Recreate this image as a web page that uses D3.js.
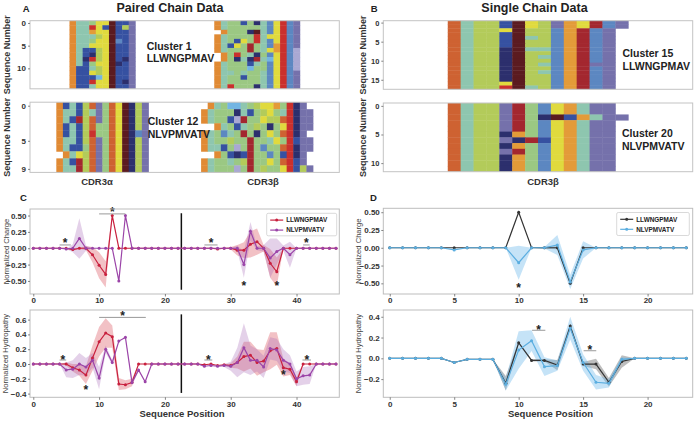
<!DOCTYPE html>
<html><head><meta charset="utf-8">
<script src="https://cdn.jsdelivr.net/npm/d3@7"></script>
<style>
body{margin:0;background:#fff}
svg{display:block}
text{font-family:"Liberation Sans",Arial,Helvetica,sans-serif}
</style>
</head><body>
<svg id="chart" width="695" height="421"></svg>
<script>
// ---------------- DATA ----------------
const aminoColors = {O:"#E08A34",R:"#CE6232",T:"#8EC6AF",G:"#9BC883",Y:"#B3CB5A",L:"#E0DA3E",D:"#5B1B20",K:"#A3272F",C:"#CA302D",A:"#E39B39",N:"#2C2F6D",B:"#3651A1",M:"#5C87C1",S:"#73B5E3",P:"#7571AB",Q:"#A9A8D3"};

const cluster1Alpha = {start:6, rows:[
"OTTGLLDBBP","OTTCLBDBYP","OTTALLDBBP","OTTTYLDBBP","OTTGLLDMBP",
"OTTLLLDBBP","OTBBYLDBBP","OTBNYLDBBP","OTNCYLDBNP","OTBGLLDNBP",
"OBBTYLDBBP","OBBLYLDBBP","OBBBSLDBBP","OBBCLLDBNP","OBBTLLDBBP"]};
const cluster1Beta = {start:28, rows:[
"OTGGBGNTMLCMP","OTGGGGGTMLCMP",".OGGGNDTMLCMP","OTGGGGCTLLCMP","OTGBLGCTMLCMP",
"OTBLGKGTMACMP","OTGGGKGTLACMQ",".OGCGTNGMLCMQ",".OGNTNKTSLCMQ","OTGGGBTGMLCMQ",
"OTGGGSGGMLCMQ","OTTGTGGTMLCMP","OTGGBGGTMLCMP","OTGGGGGTMLCMP","OTCGGGNTMLCMP"]};
const cluster12Alpha = {start:4, rows:[
"OBTBYRPGRLDNYP","OTTBYTPGRLDNYP","OTBKYRPGRLDNYP","OBTBYRGGRLDNYP","OBTBYCGGRLDNMP",
"OTTBYRPGRLDNYP","OTBBGRPGRLDNYP",".OTLYRPGRLDNYP","OTBKYRPGRLDNYP","OTTKYRPGRLDNYP"]};
const cluster12Beta = {start:26, rows:[
".OTGSSTGYLLAGCNP.","OTGGGNTBGYLGTCNPP","OTGGBQKGGLYYRCNPP","..OTGBTGYGNGLCNPP","OTGMTGKGNGLGRCNP.",
"OTGGYGGKGGTLGCBPP","OTTBGQGKGMGGRCNPP","..OGBNBKGGMGBCNP.","OTGGTGYKGGLGRCBP.","OTGGGQGKGYGGLCBYP"]};
const cluster15 = {start:5, rows:[
"RTYYBDLYPALKMP","RTYYBDLYPALKMP","RTYYLDYYMAKMP.","RTYYBDYYMAKMP.","RTYYBDTYMAKMP.",
"RTYYBDYYMAKMP.","RTYYBDYYMAKMP.","RTYYNDTTMAKMP.","RTYYNDYYMAKMP.","RTYYNDYTMAKMP.",
"RTYYNDYYMAKMP.","RTYYNDYTMAKPP.","RTYYNDYYMAKMP.","RTYYNDYTMAKMP.","RTYYNDYYMAKMP.",
"RTYYNDYYMAKMP.","RTYYLDYYMAKMP.","RTYYCDTYMAKMP."]};
const cluster20 = {start:5, rows:[
"RTYYPKGMLATPP.","RTYYPKGMLATPP.","RTYYPKGNDBATPP","RTYYPKGMLATPP.","RTYYPKGMLATPP.",
"RTYYNAGMLATPP.","RTYYPNKBLATPP.","RTYYNAGMLATPP.","RTYYPKGMLATPP.","RTYYNAGMLATPP.",
"RTYYNAGMLATPP.","RTYYNAGMLATPP."]};

const seriesNames = ["LLWNGPMAV","NLVPMVATV"];

// Paired chain (positions 0..46)
const chargeA_LLW = [0,0,0,0,0, 0,-0.02,0,0,-0.1, -0.26,-0.4,0.5,0,0, 0,0,0,0,0, 0,0,0,0,0, 0,0,0,-0.01,0, 0,-0.03,-0.03,0.06,0.1, 0,-0.23,-0.36,0,0, 0,0,0,0,0, 0,0];
const chargeA_LLW_sd = [0,0,0,0,0, 0,0.02,0.01,0.03,0.12, 0.2,0.2,0,0,0, 0,0,0,0,0, 0,0,0,0,0, 0,0,0,0,0, 0.02,0.08,0.12,0.2,0.2, 0.05,0.22,0.22,0,0, 0,0,0,0,0, 0,0];
const chargeA_NLV = [0,0,0,0,0, -0.01,0,0.15,0,0, 0,0,0,-0.5,0.5, 0,0,0,0,0, 0,0,0,0,0, 0,0,0,0,0, 0,0,-0.25,0.26,0, 0,-0.15,-0.05,0,-0.1, 0,0,0,0,0, 0,0];
const chargeA_NLV_sd = [0,0,0,0,0, 0,0.06,0.31,0.04,0, 0,0,0,0,0, 0,0,0,0,0, 0,0,0,0,0, 0,0,0,0,0, 0,0.04,0.2,0.14,0.03, 0.05,0.3,0.2,0.04,0.2, 0,0,0,0,0, 0,0];
const hydroA_LLW = [0,0,0,0,0, 0,-0.05,-0.08,-0.15,0.08, 0.3,0.42,0.37,-0.27,-0.28, -0.25,0,0,0,0, 0,0,0,0,0, 0,-0.01,0,-0.02,-0.01, -0.02,0.02,0.1,0.12,0.02, 0.04,0.18,0.21,-0.05,-0.07, -0.24,0,0,0,0, 0,0];
const hydroA_LLW_sd = [0,0,0,0,0, 0.02,0.05,0.08,0.12,0.17, 0.2,0.2,0.15,0.08,0.06, 0.05,0,0,0,0, 0,0,0,0,0, 0,0,0,0,0, 0.03,0.08,0.2,0.18,0.18, 0.15,0.25,0.22,0.12,0.08, 0.06,0,0,0,0, 0,0];
const hydroA_NLV = [0,0,0,0,0, -0.08,-0.07,0,-0.04,0.05, -0.19,0.2,0.02,0.31,0.36, -0.25,-0.08,-0.24,0,0, 0,0,0,0,0, 0,-0.03,-0.02,-0.03,-0.02, -0.03,0.02,0.22,0.05,0.05, -0.04,0.21,0.19,0.05,0, -0.2,-0.16,-0.15,0,0, 0,0];
const hydroA_NLV_sd = [0,0,0,0,0, 0.1,0.12,0.15,0.12,0.1, 0.15,0.05,0.03,0,0, 0.04,0.02,0,0,0, 0,0,0,0,0, 0,0,0,0,0.02, 0.06,0.2,0.33,0.2,0.15, 0.15,0.15,0.15,0.15,0.12, 0.1,0.12,0.12,0,0, 0,0];

// Single chain (positions 0..23)
const chargeB_LLW = [0,0,0,0,0, 0,0,0,0,0, 0.5,0,0,0,-0.5, 0,0,0,0,0, 0,0,0,0];
const chargeB_LLW_sd = [0,0,0,0,0, 0,0,0,0,0, 0,0,0.015,0.02,0.03, 0,0,0,0,0, 0,0,0,0];
const chargeB_NLV = [0,0,0,0,0, -0.03,0,0,0,0, -0.21,0,0,0.04,-0.48, -0.03,0,0,0,0, 0,0,0,0];
const chargeB_NLV_sd = [0,0,0,0,0, 0,0,0,0,0, 0.24,0,0.01,0.14,0.1, 0.12,0,0,0,0, 0,0,0,0];
const hydroB_LLW = [0,0,0,0,0, -0.04,-0.01,-0.01,-0.01,-0.24, 0.15,-0.02,-0.02,-0.065,0.31, -0.055,-0.055,-0.23,-0.03,0, 0,0,0,0];
const hydroB_LLW_sd = [0,0,0,0,0, 0,0,0,0,0.07, 0.01,0.01,0.01,0.05,0.02, 0.02,0.05,0.04,0.06,0, 0,0,0,0];
const hydroB_NLV = [0,0,0,0,0, -0.04,-0.01,-0.01,-0.01,-0.25, 0.08,0.17,-0.08,-0.07,0.29, -0.04,-0.23,-0.24,-0.01,0, 0,0,0,0];
const hydroB_NLV_sd = [0,0,0,0,0, 0,0,0,0,0.06, 0.18,0.1,0.09,0.05,0.11, 0.08,0.07,0.04,0.02,0, 0,0,0,0];

// significance marks: bracket [x1,x2] at value "line", star at value "y"
const starsChargeA = [{x1:4,x2:5.7,line:0.05,y:0.13},{x1:10,x2:14,line:0.525,y:0.59},{x1:26,x2:28,line:0.05,y:0.13},{x1:41,x2:42,line:0.05,y:0.13},{x:32,y:-0.54},{x:37,y:-0.54}];
const starsHydroA = [{x1:4,x2:5,line:0.054,y:0.095},{x:8,y:-0.32},{x1:10,x2:17.1,line:0.63,y:0.69},{x1:26,x2:27.2,line:0.054,y:0.095},{x:38,y:-0.105},{x1:40.9,x2:42.2,line:0.054,y:0.095}];
const starsChargeB = [{x:10,y:-0.53}];
const starsHydroB = [{x1:11.04,x2:12.07,line:0.27,y:0.3},{x1:15.04,x2:16.02,line:0.073,y:0.105}];

const ticksCharge = [-0.5,-0.25,0,0.25,0.5];
const ticksHydroA = [-0.4,-0.2,0,0.2,0.4,0.6];
const ticksHydroB = [-0.2,0,0.2,0.4];
const xTicksA = [0,10,20,30,40];
const xTicksB = [0,5,10,15,20];

// ---------------- DRAWING ----------------
const svg = d3.select("#chart");
const FONT = '"Liberation Sans",Arial,Helvetica,sans-serif';

const xA = d3.scaleLinear().domain([-0.5,46.5]).range([30,339.3]);
const xB = d3.scaleLinear().domain([-0.5,23.5]).range([383.3,692.7]);

function txt(x,y,s,o={}) {
  const t = svg.append("text").attr("x",x).attr("y",y).text(s)
    .attr("font-size",o.size||9).attr("font-weight",o.weight||"bold")
    .attr("fill",o.fill||"#222").attr("text-anchor",o.anchor||"start");
  if (o.rotate) t.attr("transform",`rotate(-90,${x},${y})`).attr("dominant-baseline","central");
  return t;
}

function styleAxis(g, size) {
  g.select(".domain").remove();
  g.selectAll(".tick line").attr("stroke","#666").attr("stroke-width",0.8);
  g.selectAll(".tick text").attr("font-size",size).attr("font-weight","bold").attr("fill","#333").attr("font-family",FONT);
}

function drawHeat(blocks, xs, top, bottom, ticks, tickSize) {
  const n = blocks[0].rows.length;
  const ys = d3.scaleLinear().domain([-0.5, n-0.5]).range([top, bottom]);
  const [x0,x1] = xs.range();
  const g = svg.append("g");
  g.append("rect").attr("x",x0).attr("y",top).attr("width",x1-x0).attr("height",bottom-top).attr("fill","#fff");
  const cw = xs(1)-xs(0), ch = ys(1)-ys(0);
  blocks.forEach(b => {
    const cells = [];
    b.rows.forEach((s,r) => [...s].forEach((c,i) => { if (c !== ".") cells.push({p:b.start+i, r, c}); }));
    g.selectAll(null).data(cells).join("rect")
      .attr("x", d => xs(d.p-0.5)).attr("y", d => ys(d.r-0.5))
      .attr("width", cw+0.4).attr("height", d => Math.min(ch+0.4, bottom-ys(d.r-0.5)))
      .attr("fill", d => aminoColors[d.c]);
  });
  g.append("rect").attr("x",x0).attr("y",top).attr("width",x1-x0).attr("height",bottom-top)
    .attr("fill","none").attr("stroke","#c4c4c4").attr("stroke-width",1);
  const ax = g.append("g").attr("transform",`translate(${x0},0)`)
    .call(d3.axisLeft(ys).tickValues(ticks).tickFormat(d3.format("d")).tickSize(2).tickPadding(2));
  styleAxis(ax, tickSize);
}

function drawLines(c) {
  const xs = c.xs, [x0,x1] = xs.range();
  const ys = d3.scaleLinear().domain(c.domain).range([c.bottom, c.top]);
  const g = svg.append("g");
  g.append("rect").attr("x",x0).attr("y",c.top).attr("width",x1-x0).attr("height",c.bottom-c.top).attr("fill","#fff");
  c.series.forEach(s => {
    const idx = d3.range(s.mean.length);
    g.append("path").datum(idx)
      .attr("d", d3.area().x(i => xs(i)).y0(i => ys(s.mean[i]-s.sd[i])).y1(i => ys(s.mean[i]+s.sd[i])))
      .attr("fill", s.band).attr("fill-opacity", s.bandOpacity).attr("stroke","none");
  });
  if (c.vline !== undefined) {
    const h = c.bottom-c.top;
    g.append("line").attr("x1",xs(c.vline)).attr("x2",xs(c.vline))
      .attr("y1",c.top+0.05*h).attr("y2",c.bottom-0.05*h).attr("stroke","#111").attr("stroke-width",1.5);
  }
  c.series.forEach(s => {
    const idx = d3.range(s.mean.length);
    g.append("path").datum(idx)
      .attr("d", d3.line().x(i => xs(i)).y(i => ys(s.mean[i])))
      .attr("fill","none").attr("stroke",s.color).attr("stroke-width",1.2);
    g.selectAll(null).data(idx).join("circle")
      .attr("cx", i => xs(i)).attr("cy", i => ys(s.mean[i])).attr("r",1.5).attr("fill",s.color);
  });
  c.stars.forEach(st => {
    let sx = st.x;
    if (st.x1 !== undefined) {
      sx = (st.x1+st.x2)/2;
      g.append("line").attr("x1",xs(st.x1)).attr("x2",xs(st.x2)).attr("y1",ys(st.line)).attr("y2",ys(st.line))
        .attr("stroke","#999").attr("stroke-width",1);
    }
    g.append("text").attr("x",xs(sx)).attr("y",ys(st.y)+6.8).attr("text-anchor","middle")
      .attr("font-size",12).attr("font-weight","bold").attr("fill","#222").attr("font-family",FONT).text("*");
  });
  g.append("rect").attr("x",x0).attr("y",c.top).attr("width",x1-x0).attr("height",c.bottom-c.top)
    .attr("fill","none").attr("stroke","#bdbdbd").attr("stroke-width",1);
  const ay = g.append("g").attr("transform",`translate(${x0},0)`)
    .call(d3.axisLeft(ys).tickValues(c.yTicks).tickFormat(d3.format(c.yFmt)).tickSize(2).tickPadding(1.5));
  styleAxis(ay, 8);
  const axx = g.append("g").attr("transform",`translate(0,${c.bottom})`)
    .call(d3.axisBottom(xs).tickValues(c.xTicks).tickFormat(d3.format("d")).tickSize(2.5).tickPadding(c.xPad));
  styleAxis(axx, 8);
  txt(c.ylabX, (c.top+c.bottom)/2, c.ylab, {size:7.6, weight:"normal", fill:"#444", anchor:"middle", rotate:true});
  if (c.legend) {
    const L = c.legend;
    g.append("rect").attr("x",L.x).attr("y",L.y).attr("width",L.w).attr("height",L.h).attr("rx",1.5)
      .attr("fill","#fff").attr("stroke","#cfcfcf").attr("stroke-width",0.8);
    c.series.forEach((s,k) => {
      const yy = L.y+6.8+k*10;
      g.append("line").attr("x1",L.x+3.5).attr("x2",L.x+16.5).attr("y1",yy).attr("y2",yy).attr("stroke",s.color).attr("stroke-width",1.2);
      g.append("circle").attr("cx",L.x+10).attr("cy",yy).attr("r",1.5).attr("fill",s.color);
      g.append("text").attr("x",L.x+19.5).attr("y",yy+2.3).attr("font-size",6.4).attr("font-weight","bold")
        .attr("fill","#222").attr("font-family",FONT).text(seriesNames[k]);
    });
  }
}

// ---- Panel A / B heatmaps ----
drawHeat([cluster1Alpha, cluster1Beta], xA, 20.7, 88.8, [0,5,10], 8);
drawHeat([cluster12Alpha, cluster12Beta], xA, 102.2, 172.4, [0,5,9], 8);
drawHeat([cluster15], xB, 20.7, 89.3, [0,5,10,15], 7.5);
drawHeat([cluster20], xB, 103, 171.7, [0,5,10], 7.5);

// ---- Panel C / D line charts ----
const redS = {color:"#C8203E", band:"#d9434f", bandOpacity:0.33};
const purS = {color:"#9B44A8", band:"#a466b5", bandOpacity:0.3};
const blkS = {color:"#333333", band:"#555555", bandOpacity:0.38};
const bluS = {color:"#5BAEE0", band:"#6fb8ea", bandOpacity:0.4};

drawLines({xs:xA, top:209, bottom:294, domain:[-0.70,0.60], yTicks:ticksCharge, yFmt:".2f", xTicks:xTicksA, xPad:1,
  series:[{...redS, mean:chargeA_LLW, sd:chargeA_LLW_sd},{...purS, mean:chargeA_NLV, sd:chargeA_NLV_sd}],
  stars:starsChargeA, vline:22.5, ylab:"Normalized Charge", ylabX:6,
  legend:{x:266.7, y:213.3, w:70, h:22.5}});
drawLines({xs:xA, top:310, bottom:397.3, domain:[-0.45,0.73], yTicks:ticksHydroA, yFmt:".1f", xTicks:xTicksA, xPad:1.5,
  series:[{...redS, mean:hydroA_LLW, sd:hydroA_LLW_sd},{...purS, mean:hydroA_NLV, sd:hydroA_NLV_sd}],
  stars:starsHydroA, vline:22.5, ylab:"Normalized Hydropathy", ylabX:6});
drawLines({xs:xB, top:208.3, bottom:294, domain:[-0.65,0.555], yTicks:ticksCharge, yFmt:".2f", xTicks:xTicksB, xPad:1,
  series:[{...blkS, mean:chargeB_LLW, sd:chargeB_LLW_sd},{...bluS, mean:chargeB_NLV, sd:chargeB_NLV_sd}],
  stars:starsChargeB, ylab:"Normalized Charge", ylabX:358.5,
  legend:{x:616.7, y:212.5, w:72.6, h:23}});
drawLines({xs:xB, top:310, bottom:397.3, domain:[-0.375,0.465], yTicks:ticksHydroB, yFmt:".1f", xTicks:xTicksB, xPad:1.5,
  series:[{...blkS, mean:hydroB_LLW, sd:hydroB_LLW_sd},{...bluS, mean:hydroB_NLV, sd:hydroB_NLV_sd}],
  stars:starsHydroB, ylab:"Normalized Hydropathy", ylabX:358.5});

// ---- Texts ----
txt(170, 11.7, "Paired Chain Data", {size:12.5, anchor:"middle"});
txt(534.5, 11.7, "Single Chain Data", {size:12.5, anchor:"middle"});
txt(22.7, 11.7, "A", {size:9.5});
txt(370.7, 11.7, "B", {size:9.5});
txt(20, 201, "C", {size:9.5});
txt(370, 201, "D", {size:9.5});

txt(6.7, 54.7, "Sequence Number", {size:9, anchor:"middle", rotate:true, fill:"#333"});
txt(6.7, 137.3, "Sequence Number", {size:9, anchor:"middle", rotate:true, fill:"#333"});
txt(363.3, 55, "Sequence Number", {size:9, anchor:"middle", rotate:true, fill:"#333"});
txt(363.3, 137.4, "Sequence Number", {size:9, anchor:"middle", rotate:true, fill:"#333"});

txt(146.7, 50, "Cluster 1", {size:10.5});
txt(146.7, 61.7, "LLWNGPMAV", {size:10.5});
txt(147.7, 125, "Cluster 12", {size:10.5});
txt(147.7, 137.5, "NLVPMVATV", {size:10.5});
txt(622.5, 57.3, "Cluster 15", {size:10.5});
txt(622.5, 70, "LLWNGPMAV", {size:10.5});
txt(622, 137.2, "Cluster 20", {size:10.5});
txt(622, 150, "NLVPMVATV", {size:10.5});

txt(97, 185, "CDR3α", {size:9.5, anchor:"middle", fill:"#333"});
txt(263, 185, "CDR3β", {size:9.5, anchor:"middle", fill:"#333"});
txt(543, 185, "CDR3β", {size:9.5, anchor:"middle", fill:"#333"});

txt(182, 416.5, "Sequence Position", {size:9.5, anchor:"middle", fill:"#333"});
txt(550.5, 416.5, "Sequence Position", {size:9.5, anchor:"middle", fill:"#333"});
</script>
</body></html>
